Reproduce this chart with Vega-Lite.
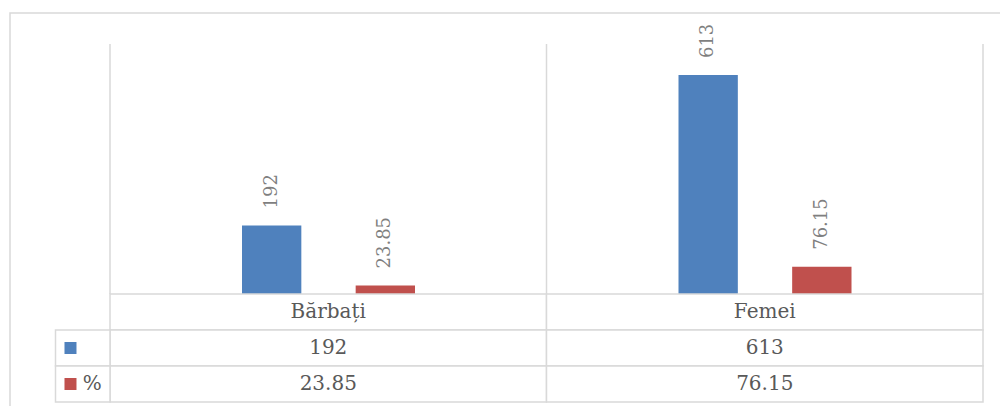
{
  "$schema": "https://vega.github.io/schema/vega-lite/v6.json",
  "width": 991,
  "height": 394,
  "padding": {"left": 10, "top": 13, "right": 0, "bottom": 0},
  "autosize": {"type": "none"},
  "background": "white",
  "config": {
    "view": {"stroke": "#d9d9d9", "strokeWidth": 1.5}
  },
  "datasets": {
    "vals": [
      {"cat": "Bărbați", "series": "", "value": 192},
      {"cat": "Bărbați", "series": "%", "value": 23.85},
      {"cat": "Femei", "series": "", "value": 613},
      {"cat": "Femei", "series": "%", "value": 76.15}
    ],
    "cats": [
      {"cat": "Bărbați"},
      {"cat": "Femei"}
    ]
  },
  "resolve": {"scale": {"x": "independent", "y": "independent"}},
  "layer": [
    {
      "layer": [
        {
          "data": {"name": "cats"},
          "mark": {"type": "rule", "color": "#d9d9d9", "strokeWidth": 1.5},
          "encoding": {
            "x": {"field": "cat", "type": "nominal", "bandPosition": 0, "axis": null,
                  "scale": {"type": "band", "domain": ["Bărbați", "Femei"], "range": [100, 973], "paddingInner": 0, "paddingOuter": 0}},
            "y": {"datum": 0, "type": "quantitative", "axis": null},
            "y2": {"datum": 700}
          }
        },
        {
          "data": {"name": "cats"},
          "transform": [{"filter": "datum.cat === 'Femei'"}],
          "mark": {"type": "rule", "color": "#d9d9d9", "strokeWidth": 1.5},
          "encoding": {
            "x": {"field": "cat", "type": "nominal", "bandPosition": 1, "axis": null},
            "y": {"datum": 0, "type": "quantitative", "axis": null},
            "y2": {"datum": 700}
          }
        },
        {
          "data": {"name": "vals"},
          "mark": {"type": "bar"},
          "encoding": {
            "x": {"field": "cat", "type": "nominal", "axis": null},
            "xOffset": {"field": "series", "type": "nominal",
                        "scale": {"domain": ["", "%"], "range": [132, 305], "paddingInner": 0.478, "paddingOuter": 0}},
            "y": {"field": "value", "type": "quantitative", "axis": null,
                  "scale": {"domain": [0, 700], "range": [281, 31], "nice": false}},
            "color": {"field": "series", "type": "nominal", "legend": null,
                      "scale": {"domain": ["", "%"], "range": ["#4f81bd", "#c0504d"]}}
          }
        },
        {
          "data": {"name": "vals"},
          "mark": {"type": "text", "angle": 270, "align": "left", "baseline": "middle", "dx": 17,
                   "font": "DejaVu Serif", "fontSize": 18, "color": "#7f7f7f"},
          "encoding": {
            "x": {"field": "cat", "type": "nominal", "axis": null},
            "xOffset": {"field": "series", "type": "nominal"},
            "y": {"field": "value", "type": "quantitative", "axis": null},
            "text": {"field": "value", "type": "quantitative", "format": "~f"}
          }
        }
      ]
    },
    {
      "layer": [
        {
          "data": {"name": "cats"},
          "mark": {"type": "rect", "fill": "white", "stroke": "#d9d9d9", "strokeWidth": 1.5},
          "encoding": {
            "x": {"field": "cat", "type": "nominal", "axis": null,
                  "scale": {"type": "band", "domain": ["Bărbați", "Femei"], "range": [100, 973], "paddingInner": 0, "paddingOuter": 0}},
            "y": {"datum": "hdr", "type": "nominal", "axis": null,
                  "scale": {"type": "band", "domain": ["hdr", "", "%"], "range": [281, 389], "paddingInner": 0, "paddingOuter": 0}}
          }
        },
        {
          "data": {"name": "vals"},
          "mark": {"type": "rect", "fill": "white", "stroke": "#d9d9d9", "strokeWidth": 1.5},
          "encoding": {
            "x": {"field": "cat", "type": "nominal", "axis": null},
            "y": {"field": "series", "type": "nominal", "axis": null}
          }
        },
        {
          "data": {"name": "cats"},
          "mark": {"type": "text", "font": "DejaVu Serif", "fontSize": 20, "color": "#595959", "baseline": "middle"},
          "encoding": {
            "x": {"field": "cat", "type": "nominal", "axis": null},
            "y": {"datum": "hdr", "type": "nominal", "axis": null},
            "text": {"field": "cat", "type": "nominal"}
          }
        },
        {
          "data": {"name": "vals"},
          "mark": {"type": "text", "font": "DejaVu Serif", "fontSize": 20, "color": "#595959", "baseline": "middle"},
          "encoding": {
            "x": {"field": "cat", "type": "nominal", "axis": null},
            "y": {"field": "series", "type": "nominal", "axis": null},
            "text": {"field": "value", "type": "quantitative", "format": "~f"}
          }
        }
      ]
    },
    {
      "layer": [
        {
          "data": {"name": "vals"},
          "transform": [{"filter": "datum.cat === 'Femei'"}],
          "mark": {"type": "rect", "fill": "white", "stroke": "#d9d9d9", "strokeWidth": 1.5},
          "encoding": {
            "x": {"datum": "leg", "type": "nominal", "axis": null,
                  "scale": {"type": "band", "domain": ["leg"], "range": [45.5, 100], "paddingInner": 0, "paddingOuter": 0}},
            "y": {"field": "series", "type": "nominal", "axis": null,
                  "scale": {"type": "band", "domain": ["hdr", "", "%"], "range": [281, 389], "paddingInner": 0, "paddingOuter": 0}}
          }
        },
        {
          "data": {"name": "vals"},
          "transform": [{"filter": "datum.cat === 'Femei'"}],
          "mark": {"type": "point", "shape": "square", "filled": true, "size": 144, "opacity": 1},
          "encoding": {
            "x": {"datum": "leg", "type": "nominal", "bandPosition": 0.275, "axis": null},
            "y": {"field": "series", "type": "nominal", "axis": null},
            "color": {"field": "series", "type": "nominal", "legend": null}
          }
        },
        {
          "data": {"name": "vals"},
          "transform": [{"filter": "datum.cat === 'Femei'"}],
          "mark": {"type": "text", "font": "DejaVu Serif", "fontSize": 20, "color": "#595959", "baseline": "middle", "align": "left"},
          "encoding": {
            "x": {"datum": "leg", "type": "nominal", "bandPosition": 0.5, "axis": null},
            "y": {"field": "series", "type": "nominal", "axis": null},
            "text": {"field": "series", "type": "nominal"}
          }
        }
      ]
    }
  ]
}
